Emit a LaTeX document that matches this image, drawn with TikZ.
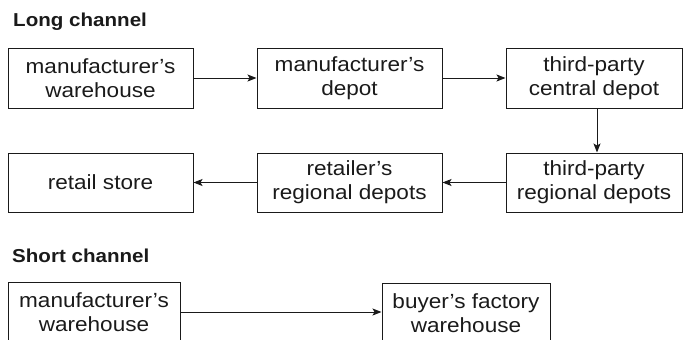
\documentclass[tikz,border=0pt]{standalone}
\usepackage{fontspec}
\setmainfont[FakeStretch=1.1]{Liberation Sans}
\usetikzlibrary{arrows.meta,calc}
\definecolor{ink}{HTML}{1A1A1A}
\begin{document}
\begin{tikzpicture}[x=1pt,y=-1pt,
  box/.style={draw=ink, line width=1pt, inner sep=0pt, align=center,
    minimum height=60pt, text=ink, font=\fontsize{20.5}{24}\selectfont},
  title/.style={anchor=base west, inner sep=0pt, text=ink,
    font=\fontsize{18.7}{22}\selectfont\bfseries},
  conn/.style={draw=ink, line width=1pt, -{Stealth[length=9pt,width=7pt,inset=2pt]}}]
\useasboundingbox (0,0) rectangle (683,340);
\node[title] (t1) at (13,27) {Long channel};
\node[box, minimum width=185pt] (A) at (100.5,78) {manufacturer’s\\warehouse};
\node[box, minimum width=185pt] (B) at (349.5,78) {manufacturer’s\\depot};
\node[box, minimum width=176pt] (C) at (594,78) {third-party\\central depot};
\node[box, minimum width=176pt, minimum height=59pt] (D) at (594,182.5) {third-party\\regional depots};
\node[box, minimum width=185pt, minimum height=59pt] (E) at (349.5,182.5) {retailer’s\\regional depots};
\node[box, minimum width=185pt, minimum height=59pt] (F) at (100.5,182.5) {retail store};
\node[title] (t2) at (12,262) {Short channel};
\node[box, minimum width=172pt] (G) at (94,312) {manufacturer’s\\warehouse};
\node[box, minimum width=168pt] (H) at (466,313) {buyer’s factory\\warehouse};
\draw[conn] (A) -- (B);
\draw[conn] (B) -- (C);
\draw[conn] ($(C.south)+(3,0)$) -- ($(D.north)+(3,0)$);
\draw[conn] (D) -- (E);
\draw[conn] (E) -- (F);
\draw[conn] (G.east) -- (G.east -| H.west);
\end{tikzpicture}
\end{document}
